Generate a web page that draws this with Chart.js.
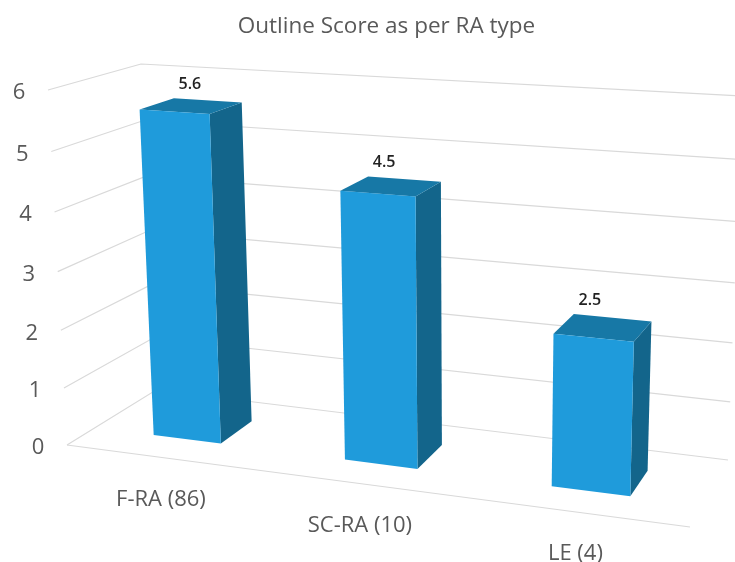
<!DOCTYPE html>
<html>
<head>
<meta charset="utf-8">
<title>Outline Score</title>
<script src="https://cdn.jsdelivr.net/npm/chart.js@4/dist/chart.umd.min.js"></script>
<style>
  body { margin: 0; background: #fff; }
  canvas { display: block; }
</style>
</head>
<body>
<canvas id="scoreChart" width="735" height="562"></canvas>
<script>
// Data
const categories = ['F-RA (86)', 'SC-RA (10)', 'LE (4)'];
const scores = [5.6, 4.5, 2.5];
const yTicks = [0, 1, 2, 3, 4, 5, 6];

const FONT = '"Open Sans", sans-serif';
const COLORS = {
  front: '#1f9bdb',
  side: '#13658b',
  top: '#1778a6',
  grid: '#d9d9d9',
  axisText: '#595959',
  valueText: '#222222',
};

// Camera planes of the 3D box: bottom-left, bottom-right, top-right, top-left
const FRONT_PLANE = [[67, 445], [690, 527], [702, 129], [48, 90]];
const BACK_PLANE = [[156, 390], [728, 460], [742, 96], [141, 64]];
// Where a column starts and ends between the two planes
const DEPTH_NEAR = 0.32;
const DEPTH_FAR = 0.71;

// Unit square -> quad projective map
function quadMap(q) {
  const [[x0, y0], [x1, y1], [x2, y2], [x3, y3]] = q;
  const dx1 = x1 - x2, dx2 = x3 - x2, sx = x0 - x1 + x2 - x3;
  const dy1 = y1 - y2, dy2 = y3 - y2, sy = y0 - y1 + y2 - y3;
  const den = dx1 * dy2 - dx2 * dy1;
  const g = (sx * dy2 - dx2 * sy) / den;
  const h = (dx1 * sy - sx * dy1) / den;
  const a = x1 - x0 + g * x1, b = x3 - x0 + h * x3;
  const d = y1 - y0 + g * y1, e = y3 - y0 + h * y3;
  return (u, v) => {
    const w = g * u + h * v + 1;
    return [(a * u + b * v + x0) / w, (d * u + e * v + y0) / w];
  };
}

const frontMap = quadMap(FRONT_PLANE);
const backMap = quadMap(BACK_PLANE);

// Flat chart pixel + depth -> point on screen
function project(area, px, py, depth) {
  const u = (px - area.left) / area.width;
  const v = (area.bottom - py) / area.height;
  const f = frontMap(u, v);
  const b = backMap(u, v);
  return [f[0] + (b[0] - f[0]) * depth, f[1] + (b[1] - f[1]) * depth];
}

function fillQuad(ctx, pts, color) {
  ctx.beginPath();
  pts.forEach((p, i) => (i ? ctx.lineTo(p[0], p[1]) : ctx.moveTo(p[0], p[1])));
  ctx.closePath();
  ctx.fillStyle = color;
  ctx.fill();
}

function line(ctx, pts) {
  ctx.beginPath();
  pts.forEach((p, i) => (i ? ctx.lineTo(p[0], p[1]) : ctx.moveTo(p[0], p[1])));
  ctx.stroke();
}

// Draws the walls, columns and labels in place of the flat bars
const perspectiveBars = {
  id: 'perspectiveBars',
  beforeDatasetsDraw(chart) {
    const { ctx, chartArea: area, scales } = chart;
    const yScale = scales.y;
    const xScale = scales.x;

    ctx.save();

    // Walls and floor
    ctx.strokeStyle = COLORS.grid;
    ctx.lineWidth = 1.2;
    yScale.ticks.forEach((tick) => {
      const py = yScale.getPixelForValue(tick.value);
      line(ctx, [
        project(area, area.left, py, 0),
        project(area, area.left, py, 1),
        project(area, area.right, py, 1),
      ]);
    });
    line(ctx, [
      project(area, area.left, area.bottom, 0),
      project(area, area.right, area.bottom, 0),
    ]);

    // Y axis labels
    ctx.font = '22px ' + FONT;
    ctx.fillStyle = COLORS.axisText;
    ctx.textAlign = 'center';
    ctx.textBaseline = 'middle';
    yScale.ticks.forEach((tick) => {
      const p = project(area, area.left, yScale.getPixelForValue(tick.value), 0);
      ctx.fillText(tick.label, p[0] - 29, p[1] + 3);
    });

    // X axis labels
    ctx.font = '22px ' + FONT;
    xScale.getLabels().forEach((label, i) => {
      const p = project(area, xScale.getPixelForValue(i), area.bottom, 0);
      ctx.fillText(label, p[0], p[1] + 42);
    });

    // Columns
    const meta = chart.getDatasetMeta(0);
    meta.data.forEach((bar, i) => {
      const left = bar.x - bar.width / 2;
      const right = bar.x + bar.width / 2;
      const ftl = project(area, left, bar.y, DEPTH_NEAR);
      const ftr = project(area, right, bar.y, DEPTH_NEAR);
      const fbl = project(area, left, bar.base, DEPTH_NEAR);
      const fbr = project(area, right, bar.base, DEPTH_NEAR);
      const btl = project(area, left, bar.y, DEPTH_FAR);
      const btr = project(area, right, bar.y, DEPTH_FAR);
      const bbr = project(area, right, bar.base, DEPTH_FAR);
      fillQuad(ctx, [ftr, fbr, bbr, btr], COLORS.side);
      fillQuad(ctx, [ftl, ftr, btr, btl], COLORS.top);
      fillQuad(ctx, [ftl, fbl, fbr, ftr], COLORS.front);

      // Value above the column
      ctx.font = '600 16px ' + FONT;
      ctx.fillStyle = COLORS.valueText;
      ctx.fillText(String(scores[i]), btl[0] + 16, btl[1] - 14);
    });

    ctx.restore();
    return false;
  },
};

// Chart
const scoreChart = new Chart(document.getElementById('scoreChart'), {
  type: 'bar',
  data: {
    labels: categories,
    datasets: [
      {
        label: 'Outline Score',
        data: scores,
        backgroundColor: COLORS.front,
        barPercentage: 0.36,
        categoryPercentage: 1,
      },
    ],
  },
  options: {
    responsive: false,
    animation: false,
    layout: { padding: { left: 38 } },
    plugins: {
      legend: { display: false },
      tooltip: { enabled: false },
      title: {
        display: true,
        text: 'Outline Score as per RA type',
        color: COLORS.axisText,
        font: { family: FONT, size: 22.5, weight: 'normal' },
        padding: { top: 13, bottom: 10 },
      },
    },
    scales: {
      x: { display: false },
      y: {
        display: false,
        min: yTicks[0],
        max: yTicks[yTicks.length - 1],
        ticks: { stepSize: 1 },
      },
    },
  },
  plugins: [perspectiveBars],
});
</script>
</body>
</html>
